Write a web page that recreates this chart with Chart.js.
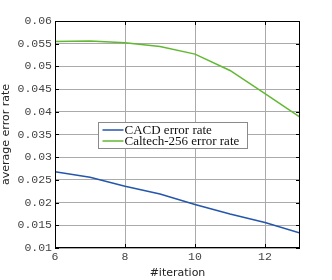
<!DOCTYPE html>
<html>
<head>
<meta charset="utf-8">
<script src="https://cdn.jsdelivr.net/npm/chart.js@4.4.1/dist/chart.umd.min.js"></script>
<style>
  html, body { margin: 0; padding: 0; background: #fff; }
  #wrap { width: 332px; height: 280px; }
</style>
</head>
<body>
<div id="wrap"><canvas id="chart" width="332" height="280"></canvas></div>
<script>
// data
const iterations = [6, 7, 8, 9, 10, 11, 12, 13];
const cacdError = [0.0268, 0.0256, 0.0236, 0.0219, 0.0196, 0.0175, 0.0156, 0.0133];
const caltechError = [0.0555, 0.0556, 0.0552, 0.0544, 0.0527, 0.0491, 0.0440, 0.0388];
const xTicks = [6, 8, 10, 12];
const yTicks = [0.01, 0.015, 0.02, 0.025, 0.03, 0.035, 0.04, 0.045, 0.05, 0.055, 0.06];
const seriesNames = ['CACD error rate', 'Caltech-256 error rate'];

const toPoints = (ys) => iterations.map((x, i) => ({ x: x, y: ys[i] }));

// box frame, inward tick marks and the in-plot legend
const frameAndLegend = {
    id: 'frameAndLegend',
    afterDraw(chart) {
        const ctx = chart.ctx;
        const a = chart.chartArea;
        const xs = chart.scales.x, ys = chart.scales.y;
        ctx.save();
        ctx.strokeStyle = '#000';
        ctx.lineWidth = 1;
        // inward ticks
        ctx.beginPath();
        xTicks.forEach(v => {
            const px = Math.round(xs.getPixelForValue(v)) + 0.5;
            ctx.moveTo(px, a.bottom); ctx.lineTo(px, a.bottom - 4);
            ctx.moveTo(px, a.top); ctx.lineTo(px, a.top + 4);
        });
        yTicks.forEach(v => {
            const py = Math.round(ys.getPixelForValue(v)) + 0.5;
            ctx.moveTo(a.left, py); ctx.lineTo(a.left + 4, py);
            ctx.moveTo(a.right, py); ctx.lineTo(a.right - 4, py);
        });
        ctx.stroke();
        ctx.strokeRect(Math.round(a.left) + 0.5, Math.round(a.top) + 0.5,
            Math.round(a.right - a.left) - 1, Math.round(a.bottom - a.top) - 1);

        // legend
        const bx = Math.round(a.left + 43) + 0.5, by = Math.round(a.top + 101) + 0.5;
        const bw = 149, bh = 26;
        ctx.fillStyle = '#fff';
        ctx.fillRect(bx, by, bw, bh);
        ctx.strokeStyle = '#8a8a8a';
        ctx.strokeRect(bx, by, bw, bh);
        ctx.font = '13px "Liberation Serif", serif';
        ctx.textBaseline = 'middle';
        chart.data.datasets.forEach((ds, i) => {
            const ly = by + 7.5 + i * 11;
            ctx.strokeStyle = ds.borderColor;
            ctx.lineWidth = 1.5;
            ctx.beginPath();
            ctx.moveTo(bx + 4, ly); ctx.lineTo(bx + 25, ly);
            ctx.stroke();
            ctx.fillStyle = '#111';
            ctx.fillText(ds.label, bx + 26, ly + 0.5);
        });
        ctx.restore();
    }
};

new Chart(document.getElementById('chart'), {
    type: 'line',
    data: {
        datasets: [
            { label: seriesNames[0], data: toPoints(cacdError), borderColor: '#2456ac', borderWidth: 1.5, pointRadius: 0, tension: 0 },
            { label: seriesNames[1], data: toPoints(caltechError), borderColor: '#62b832', borderWidth: 1.5, pointRadius: 0, tension: 0 }
        ]
    },
    options: {
        responsive: false,
        animation: false,
        layout: { padding: { top: 21, right: 32, left: 0, bottom: 0 } },
        plugins: { legend: { display: false }, tooltip: { enabled: false } },
        scales: {
            x: {
                type: 'linear',
                min: 6, max: 13,
                afterBuildTicks: (s) => { s.ticks = xTicks.map(v => ({ value: v })); },
                afterFit: (s) => { s.height = 32; },
                grid: { color: '#aaa', borderDash: [1, 2], drawTicks: false },
                border: { display: false },
                ticks: { color: '#444', padding: 2, maxRotation: 0, font: { family: '"Liberation Mono", monospace', size: 11.5 } },
                title: { display: true, text: '#iteration', color: '#222', padding: { top: 0, bottom: 0 }, font: { family: '"DejaVu Sans", sans-serif', size: 11 } }
            },
            y: {
                min: 0.01, max: 0.06,
                afterBuildTicks: (s) => { s.ticks = yTicks.map(v => ({ value: v })); },
                afterFit: (s) => { s.width = 55; },
                grid: { color: '#aaa', borderDash: [1, 2], drawTicks: false },
                border: { display: false },
                ticks: {
                    color: '#444', padding: 3,
                    font: { family: '"Liberation Mono", monospace', size: 11.5 },
                    callback: (v) => String(+v.toFixed(3))
                },
                title: { display: true, text: 'average error rate', color: '#222', padding: { top: 0, bottom: 0 }, font: { family: '"DejaVu Sans", sans-serif', size: 11 } }
            }
        }
    },
    plugins: [frameAndLegend]
});
</script>
</body>
</html>
